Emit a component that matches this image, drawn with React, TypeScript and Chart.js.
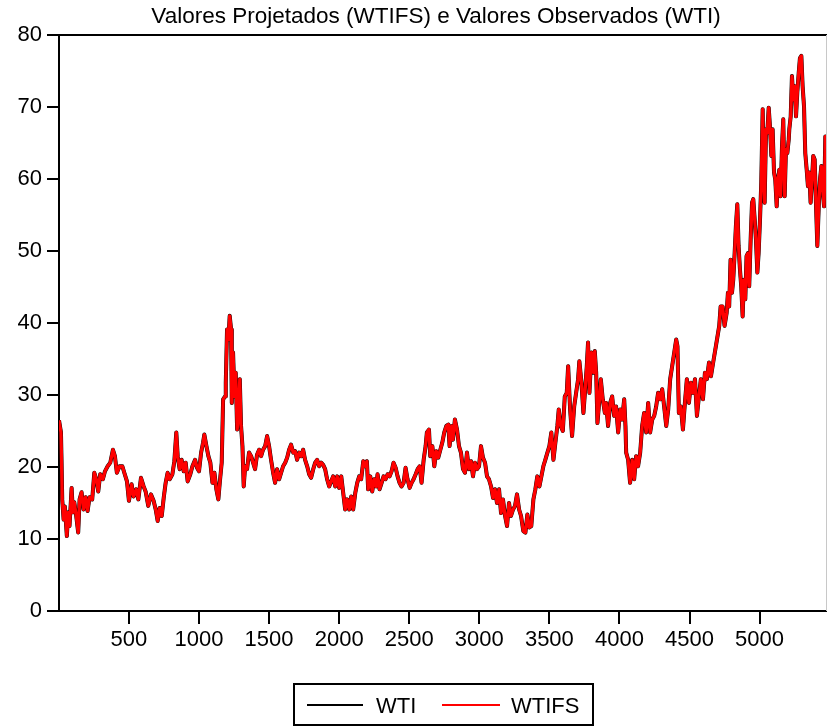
import { useEffect, useRef } from "react";
import { Chart, registerables } from "chart.js";

Chart.register(...registerables);

const TITLE = "Valores Projetados (WTIFS) e Valores Observados (WTI)";
const FONT = '"Liberation Sans", Arial, Helvetica, sans-serif';

// Observation number of each sampled point
const obs: number[] = [
  1, 15, 19, 24, 34, 43, 57, 67, 76, 91, 100, 110, 124, 138, 148, 162, 176, 191, 205, 219,
  238, 253, 267, 281, 295, 314, 329, 348, 367, 386, 400, 414, 433, 453, 467, 486, 500, 519, 533, 552,
  567, 586, 605, 619, 638, 657, 676, 691, 705, 719, 734, 748, 762, 776, 791, 810, 824, 838, 848, 862,
  876, 891, 905, 919, 938, 953, 972, 986, 1000, 1015, 1029, 1038, 1053, 1067, 1081, 1096, 1110, 1124,
  1138, 1148, 1162, 1172, 1186, 1191, 1200, 1210, 1219, 1229, 1234, 1243, 1253, 1262, 1272, 1281, 1291, 1300,
  1310, 1319, 1329, 1343, 1357, 1372, 1386, 1400, 1414, 1429, 1443, 1457, 1472, 1486, 1500, 1514, 1529, 1543,
  1557, 1572, 1586, 1600, 1615, 1629, 1643, 1657, 1672, 1686, 1700, 1715, 1729, 1743, 1757, 1772, 1786, 1800,
  1815, 1829, 1843, 1857, 1872, 1886, 1900, 1914, 1929, 1943, 1957, 1972, 1986, 2000, 2015, 2029, 2043, 2057,
  2072, 2086, 2100, 2115, 2129, 2143, 2157, 2172, 2186, 2198, 2207, 2222, 2236, 2250, 2265, 2274, 2288, 2303,
  2317, 2331, 2346, 2360, 2374, 2388, 2403, 2417, 2431, 2445, 2460, 2474, 2488, 2503, 2517, 2531, 2546, 2560,
  2574, 2588, 2603, 2617, 2626, 2641, 2650, 2665, 2679, 2693, 2707, 2722, 2736, 2750, 2765, 2779, 2788, 2803,
  2812, 2826, 2841, 2855, 2869, 2884, 2898, 2912, 2926, 2941, 2955, 2969, 2984, 2998, 3012, 3026, 3041, 3055,
  3069, 3084, 3098, 3112, 3126, 3141, 3155, 3169, 3184, 3198, 3212, 3226, 3241, 3255, 3269, 3284, 3298, 3314,
  3329, 3343, 3357, 3371, 3386, 3400, 3414, 3429, 3443, 3457, 3471, 3486, 3500, 3514, 3529, 3543, 3557, 3567,
  3581, 3596, 3610, 3624, 3634, 3648, 3662, 3677, 3691, 3705, 3714, 3729, 3743, 3757, 3767, 3776, 3786, 3800,
  3815, 3824, 3834, 3843, 3857, 3867, 3881, 3896, 3905, 3919, 3934, 3948, 3962, 3976, 3991, 4005, 4019, 4034,
  4043, 4048, 4062, 4076, 4091, 4105, 4119, 4133, 4148, 4162, 4176, 4191, 4205, 4219, 4234, 4248, 4262, 4276,
  4291, 4305, 4319, 4334, 4348, 4362, 4376, 4391, 4405, 4414, 4424, 4438, 4453, 4467, 4481, 4496, 4510, 4524,
  4539, 4553, 4567, 4581, 4596, 4610, 4624, 4639, 4653, 4672, 4690, 4712, 4722, 4736, 4750, 4765, 4774, 4783,
  4793, 4803, 4812, 4822, 4831, 4841, 4850, 4860, 4869, 4879, 4888, 4898, 4907, 4917, 4926, 4936, 4946, 4955,
  4965, 4974, 4984, 4993, 5003, 5012, 5022, 5031, 5036, 5046, 5055, 5065, 5074, 5084, 5093, 5103, 5112, 5122,
  5131, 5141, 5150, 5160, 5169, 5179, 5188, 5198, 5208, 5212, 5222, 5231, 5241, 5250, 5260, 5269, 5279, 5288,
  5298, 5307, 5317, 5326, 5336, 5345, 5355, 5364, 5374, 5383, 5393, 5403, 5412, 5422, 5431, 5441, 5450, 5460,
  5469, 5479,
];

// Observed WTI price (US$/barrel)
const wti: number[] = [
  26.5, 24.8, 21.0, 15.5, 12.7, 14.5, 10.4, 13.7, 11.8, 17.1, 13.7, 15.1, 13.2, 10.9, 15.5, 16.5, 14.1, 15.8, 13.9, 15.8,
  15.5, 19.2, 18.3, 16.6, 19.0, 18.3, 19.4, 20.1, 20.6, 22.4, 21.5, 19.2, 20.1, 20.1, 19.2, 18.0, 15.3, 17.6, 15.9, 16.9,
  15.5, 18.5, 17.3, 16.6, 14.6, 16.2, 15.3, 14.1, 12.5, 14.3, 13.2, 15.7, 17.8, 19.2, 18.3, 19.0, 20.8, 24.8, 21.5, 19.7,
  21.0, 19.4, 20.6, 18.0, 19.0, 20.1, 21.0, 19.9, 19.4, 22.0, 23.4, 24.5, 22.9, 21.5, 20.6, 17.8, 19.2, 16.9,
  15.5, 17.8, 20.6, 29.4, 29.8, 31.7, 39.1, 37.7, 41.0, 39.1, 28.9, 35.9, 29.8, 33.1, 25.2, 27.1, 32.2, 25.7,
  22.9, 17.3, 20.1, 19.7, 22.0, 21.5, 20.6, 19.7, 21.7, 22.4, 21.5, 22.4, 22.9, 24.3, 22.9, 21.0, 19.2, 17.8,
  19.7, 18.3, 19.2, 20.1, 20.6, 21.3, 22.4, 23.1, 22.0, 22.2, 21.0, 22.0, 21.5, 22.4, 21.0, 20.1, 19.0, 18.5,
  19.7, 20.6, 21.0, 20.1, 20.6, 20.3, 19.7, 18.3, 17.3, 18.0, 18.7, 17.3, 18.7, 17.1, 18.7, 16.4, 14.1, 15.5,
  14.1, 15.9, 14.1, 16.4, 17.8, 18.7, 18.3, 20.8, 20.1, 20.8, 16.9, 18.7, 16.6, 18.3, 17.3, 19.0, 16.9, 17.8,
  18.7, 18.3, 19.0, 18.7, 19.4, 20.6, 19.9, 18.7, 17.8, 17.3, 17.8, 19.9, 18.3, 17.1, 17.8, 18.3, 19.0, 19.7,
  20.1, 17.8, 21.0, 22.9, 24.8, 25.2, 21.5, 22.9, 20.1, 22.2, 21.3, 22.4, 23.4, 24.8, 25.7, 25.9, 22.9, 25.7,
  23.8, 26.6, 25.2, 22.9, 22.0, 19.7, 19.2, 22.0, 19.7, 20.8, 18.7, 20.6, 19.7, 20.1, 22.9, 21.3, 20.6, 18.7,
  18.3, 17.3, 15.7, 16.9, 15.0, 16.9, 13.6, 15.5, 13.2, 11.8, 15.0, 13.2, 14.1, 14.6, 16.2, 14.1, 13.2, 11.1,
  10.9, 13.4, 11.6, 11.8, 15.5, 16.9, 18.7, 17.3, 18.7, 20.1, 21.0, 22.0, 22.9, 24.8, 21.0, 23.4, 25.7, 28.0,
  25.7, 25.0, 29.8, 30.3, 34.0, 28.0, 24.3, 28.4, 30.3, 32.2, 34.7, 31.7, 27.5, 31.2, 34.0, 37.3, 30.3, 35.9,
  33.1, 36.1, 33.1, 26.1, 29.4, 32.2, 29.4, 27.5, 28.9, 25.7, 28.9, 29.8, 27.1, 28.4, 24.8, 28.0, 26.6, 29.4,
  25.7, 22.0, 21.0, 17.8, 21.0, 18.3, 21.5, 20.1, 22.0, 25.7, 27.5, 24.8, 28.9, 24.8, 26.6, 27.1, 28.4, 30.3,
  29.4, 30.8, 28.4, 25.7, 28.0, 32.2, 34.0, 35.9, 37.7, 36.8, 27.5, 28.4, 25.2, 28.9, 32.2, 28.9, 31.7, 30.3,
  32.2, 27.1, 29.8, 32.2, 29.4, 33.1, 32.2, 34.5, 32.6, 34.9, 37.0, 39.6, 42.3, 42.3, 39.6, 41.4, 44.2, 42.3,
  48.8, 44.2, 46.0, 49.7, 53.5, 56.5, 50.7, 47.4, 45.1, 40.9, 46.0, 43.3, 49.3, 49.7, 45.1, 51.5, 56.7, 57.2,
  54.4, 51.6, 47.0, 49.7, 54.4, 59.5, 69.7, 59.9, 56.7, 66.9, 66.4, 69.9, 67.3, 63.2, 66.9, 60.9, 59.9, 56.2,
  59.9, 61.3, 57.6, 64.6, 68.3, 57.6, 64.1, 63.6, 65.5, 66.9, 68.7, 74.3, 71.0, 72.9, 68.7, 72.0, 74.7, 76.8,
  77.1, 72.9, 70.1, 63.6, 61.3, 59.0, 60.9, 56.7, 59.9, 63.2, 62.7, 56.2, 50.7, 56.2, 59.9, 61.8, 58.5, 56.2,
  65.9, 64.1,
];

// Fitted values (WTIFS) overlap the observed series at this scale
const wtifs: number[] = wti.slice();

const xTicks: number[] = [500, 1000, 1500, 2000, 2500, 3000, 3500, 4000, 4500, 5000];
const yTicks: number[] = [0, 10, 20, 30, 40, 50, 60, 70, 80];

const seriesNames: string[] = ["WTI", "WTIFS"];
const seriesColors: string[] = ["#000000", "#ff0000"];

const frameAndLegend = {
  id: "frameAndLegend",
  afterDraw(chart: any) {
    const { ctx, chartArea: a } = chart;
    ctx.save();

    // top frame line
    ctx.strokeStyle = "#000";
    ctx.lineWidth = 2;
    ctx.beginPath();
    ctx.moveTo(a.left - 1, a.top);
    ctx.lineTo(a.right, a.top);
    ctx.stroke();

    // light right frame line
    ctx.strokeStyle = "#c8c8c8";
    ctx.lineWidth = 1;
    ctx.beginPath();
    ctx.moveTo(a.right - 0.5, a.top);
    ctx.lineTo(a.right - 0.5, a.bottom);
    ctx.stroke();

    // title
    ctx.fillStyle = "#000";
    ctx.font = `22.5px ${FONT}`;
    ctx.textAlign = "center";
    ctx.textBaseline = "alphabetic";
    ctx.fillText(TITLE, 436, 23);

    // legend box
    ctx.strokeStyle = "#000";
    ctx.lineWidth = 2;
    ctx.strokeRect(294, 684, 299, 41);

    ctx.font = `22px ${FONT}`;
    const items = [
      { x0: 307, x1: 363, tx: 376 },
      { x0: 442, x1: 500, tx: 511 },
    ];
    items.forEach((it, i) => {
      ctx.strokeStyle = seriesColors[i];
      ctx.lineWidth = 2;
      ctx.beginPath();
      ctx.moveTo(it.x0, 705);
      ctx.lineTo(it.x1, 705);
      ctx.stroke();
      ctx.fillStyle = "#000";
      ctx.textAlign = "left";
      ctx.fillText(seriesNames[i], it.tx, 713);
    });

    ctx.restore();
  },
};

export default function App() {
  const canvasRef = useRef<HTMLCanvasElement | null>(null);

  useEffect(() => {
    const canvas = canvasRef.current;
    if (!canvas) return;

    const toPoints = (vals: number[]) => obs.map((x, i) => ({ x, y: vals[i] }));

    const axisCommon = {
      grid: {
        display: true,
        drawOnChartArea: false,
        drawTicks: true,
        color: "#000",
        lineWidth: 2,
      },
      border: { display: true, color: "#000", width: 2 },
    };

    const chart = new Chart(canvas, {
      type: "line",
      data: {
        datasets: [
          {
            label: seriesNames[0],
            data: toPoints(wti),
            borderColor: seriesColors[0],
            borderWidth: 4,
            pointRadius: 0,
            borderJoinStyle: "round",
            tension: 0,
            order: 1,
          },
          {
            label: seriesNames[1],
            data: toPoints(wtifs),
            borderColor: seriesColors[1],
            borderWidth: 3.3,
            pointRadius: 0,
            borderJoinStyle: "round",
            tension: 0,
            order: 0,
          },
        ],
      },
      plugins: [frameAndLegend],
      options: {
        animation: false,
        responsive: false,
        events: [],
        parsing: false,
        normalized: true,
        layout: { padding: { top: 35, left: 0, right: 0, bottom: 0 } },
        plugins: {
          legend: { display: false },
          title: { display: false },
          tooltip: { enabled: false },
        },
        scales: {
          x: {
            type: "linear",
            min: 1,
            max: 5481,
            ...axisCommon,
            grid: { ...axisCommon.grid, tickLength: 13 },
            ticks: {
              color: "#000",
              font: { family: FONT, size: 22 },
              padding: 3,
              maxRotation: 0,
              autoSkip: false,
              callback: (v: any) => String(v),
            },
            afterBuildTicks: (s: any) => {
              s.ticks = xTicks.map((v) => ({ value: v }));
            },
            afterFit: (s: any) => {
              s.height = 115;
            },
          },
          y: {
            type: "linear",
            min: 0,
            max: 80,
            ...axisCommon,
            grid: { ...axisCommon.grid, tickLength: 12 },
            ticks: {
              color: "#000",
              font: { family: FONT, size: 22 },
              padding: 5,
              callback: (v: any) => String(v),
            },
            afterBuildTicks: (s: any) => {
              s.ticks = yTicks.map((v) => ({ value: v }));
            },
            afterFit: (s: any) => {
              s.width = 59;
            },
          },
        },
      } as any,
    });

    return () => chart.destroy();
  }, []);

  return (
    <div style={{ position: "fixed", left: 0, top: 0, width: 827, height: 726, background: "#fff" }}>
      <canvas ref={canvasRef} width={827} height={726} style={{ display: "block" }} />
    </div>
  );
}
